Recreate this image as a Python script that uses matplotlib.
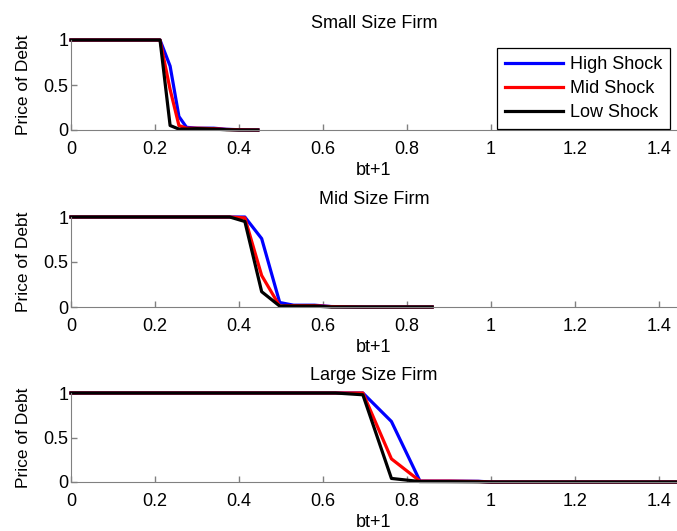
import numpy as np
import matplotlib.pyplot as plt

plt.rcParams.update({
    "font.family": ["Liberation Sans", "DejaVu Sans"],
    "font.size": 13,
    "axes.edgecolor": "#808080",
    "xtick.color": "#808080", "ytick.color": "#808080",
    "xtick.labelcolor": "black", "ytick.labelcolor": "black",
    "xtick.direction": "in", "ytick.direction": "in",
})

# ── Data (bt+1, price of debt) ─────────────────────────────────────────────
small_x    = [0, 0.212, 0.236, 0.257, 0.275, 0.30, 0.34, 0.37, 0.40, 0.445]
small_high = [1, 1.00, 0.71, 0.15, 0.03, 0.02, 0.02, 0.008, 0.003, 0.0]
small_mid  = [1, 1.00, 0.45, 0.05, 0.02, 0.02, 0.015, 0.006, 0.002, 0.0]
small_low  = [1, 1.00, 0.05, 0.01, 0.01, 0.015, 0.01, 0.003, 0.0, 0.0]

mid_x    = [0, 0.378, 0.414, 0.454, 0.497, 0.53, 0.58, 0.62, 0.70, 0.86]
mid_high = [1, 1.00, 1.00, 0.76, 0.05, 0.02, 0.02, 0.005, 0.0, 0.0]
mid_mid  = [1, 1.00, 0.99, 0.35, 0.01, 0.015, 0.015, 0.004, 0.0, 0.0]
mid_low  = [1, 1.00, 0.95, 0.17, 0.01, 0.01, 0.01, 0.0, 0.0, 0.0]

large_x    = [0, 0.63, 0.695, 0.763, 0.831, 0.90, 0.97, 1.0, 1.2, 1.5]
large_high = [1, 1.00, 1.00, 0.68, 0.01, 0.01, 0.008, 0.0, 0.0, 0.0]
large_mid  = [1, 1.00, 1.00, 0.26, 0.01, 0.01, 0.006, 0.0, 0.0, 0.0]
large_low  = [1, 1.00, 0.98, 0.04, 0.005, 0.004, 0.002, 0.0, 0.0, 0.0]

titles = ["Small Size Firm", "Mid Size Firm", "Large Size Firm"]
series = [
    (small_x, small_high, small_mid, small_low),
    (mid_x, mid_high, mid_mid, mid_low),
    (large_x, large_high, large_mid, large_low),
]
labels = ["High Shock", "Mid Shock", "Low Shock"]
colors = ["#0000ff", "#ff0000", "#000000"]
xticks = [0, 0.2, 0.4, 0.6, 0.8, 1.0, 1.2, 1.4]
xtick_labels = ["0", "0.2", "0.4", "0.6", "0.8", "1", "1.2", "1.4"]

fig = plt.figure(figsize=(6.77, 5.31), dpi=100, facecolor="white")
W, H = 677, 531
# (top px, bottom px) of each axes box
boxes = [(40, 130), (217, 307), (393, 482)]

axes = []
for (top, bot), title, (x, hi, md, lo) in zip(boxes, titles, series):
    ax = fig.add_axes([71 / W, 1 - bot / H, (W - 71) / W, (bot - top) / H])
    for y, c, lab in zip((hi, md, lo), colors, labels):
        ax.plot(x, y, color=c, lw=2.3, label=lab, clip_on=False)
    ax.set_xlim(0, 1.443)
    ax.set_ylim(0, 1)
    ax.set_xticks(xticks)
    ax.set_xticklabels(xtick_labels)
    ax.set_yticks([0, 0.5, 1])
    ax.set_yticklabels(["0", "0.5", "1"])
    ax.tick_params(length=4, width=1, labelsize=13)
    ax.tick_params(axis="x", pad=8)
    ax.tick_params(axis="y", pad=2)
    ax.spines["top"].set_visible(False)
    ax.spines["right"].set_visible(False)
    ax.set_title(title, fontsize=13, pad=9)
    ax.set_xlabel("bt+1", fontsize=13, labelpad=3)
    ax.set_ylabel("Price of Debt", fontsize=12.5, labelpad=9)
    axes.append(ax)

leg = axes[0].legend(loc="lower right", bbox_to_anchor=(670 / W, 1 - 129 / H),
                     bbox_transform=fig.transFigure, fancybox=False,
                     edgecolor="black", framealpha=1, fontsize=13,
                     handlelength=3.2, handletextpad=0.35, labelspacing=0.38,
                     borderpad=0.45, borderaxespad=0)
leg.get_frame().set_linewidth(0.9)

fig.savefig("out.png", dpi=100, facecolor="white")
